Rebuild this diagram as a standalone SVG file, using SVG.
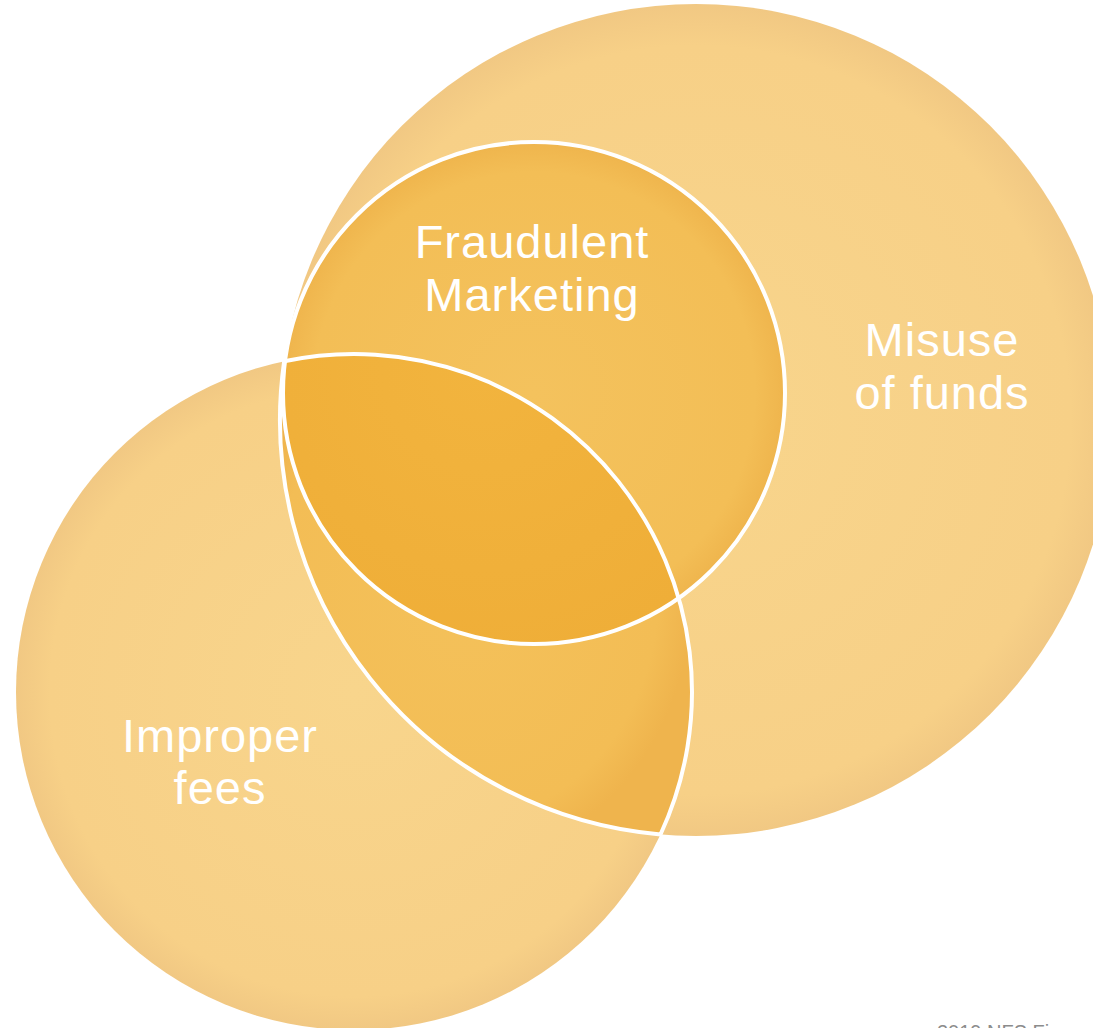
<svg xmlns="http://www.w3.org/2000/svg" width="1093" height="1028" viewBox="0 0 1093 1028">
  <defs>
    <radialGradient id="gLight" cx="50%" cy="50%" r="50%">
      <stop offset="0" stop-color="#F8D58C"/>
      <stop offset="0.9" stop-color="#F7D087"/>
      <stop offset="1" stop-color="#F1C883"/>
    </radialGradient>
    <radialGradient id="gLens" cx="45%" cy="50%" r="55%">
      <stop offset="0" stop-color="#F4C15A"/>
      <stop offset="0.85" stop-color="#F3BD55"/>
      <stop offset="1" stop-color="#EFB44D"/>
    </radialGradient>
    <radialGradient id="gFraud" cx="50%" cy="50%" r="50%">
      <stop offset="0" stop-color="#F4C25D"/>
      <stop offset="0.88" stop-color="#F3BE56"/>
      <stop offset="1" stop-color="#EFB54D"/>
    </radialGradient>
    <radialGradient id="gTriple" cx="40%" cy="45%" r="60%">
      <stop offset="0" stop-color="#F2B43E"/>
      <stop offset="1" stop-color="#EFAE38"/>
    </radialGradient>
    <clipPath id="clipImproper">
      <circle cx="354" cy="692" r="338"/>
    </clipPath>
    <style>
      .lbl { font-family: "Liberation Sans", Arial, sans-serif; font-size: 47px; fill: #FFFFFF; text-anchor: middle; letter-spacing: 1px; }
      .outline { fill: none; stroke: #FFFFFF; stroke-width: 4; }
      .foot { font-family: "Liberation Sans", Arial, sans-serif; font-size: 20px; fill: #8C8C8C; }
    </style>
  </defs>
  <rect x="0" y="0" width="1093" height="1028" fill="#FFFFFF"/>

  <g id="misuse">
    <circle cx="696" cy="420" r="416" fill="url(#gLight)"/>
  </g>
  <g id="improper">
    <circle cx="354" cy="692" r="338" fill="url(#gLight)"/>
  </g>
  <g id="lens">
    <path d="M284.15 361.31 A338 338 0 0 1 660.49 834.49 A416 416 0 0 1 284.15 361.31 Z" fill="url(#gLens)"/>
  </g>
  <g id="fraudulent">
    <circle cx="534" cy="393" r="251" fill="url(#gFraud)"/>
    <circle cx="534" cy="393" r="251" fill="url(#gTriple)" clip-path="url(#clipImproper)"/>
  </g>
  <g id="outlines">
    <path class="outline" d="M284.15 361.31 A338 338 0 0 1 660.49 834.49 A416 416 0 0 1 284.15 361.31 Z"/>
    <circle class="outline" cx="534" cy="393" r="251"/>
  </g>

  <g id="labels">
    <text class="lbl" x="532" y="258">Fraudulent</text>
    <text class="lbl" x="532" y="311">Marketing</text>
    <text class="lbl" x="942" y="356">Misuse</text>
    <text class="lbl" x="942" y="409">of funds</text>
    <text class="lbl" x="220" y="752">Improper</text>
    <text class="lbl" x="220" y="804">fees</text>
  </g>
  <text class="foot" x="937" y="1039">2019 NFS Fi</text>
</svg>
